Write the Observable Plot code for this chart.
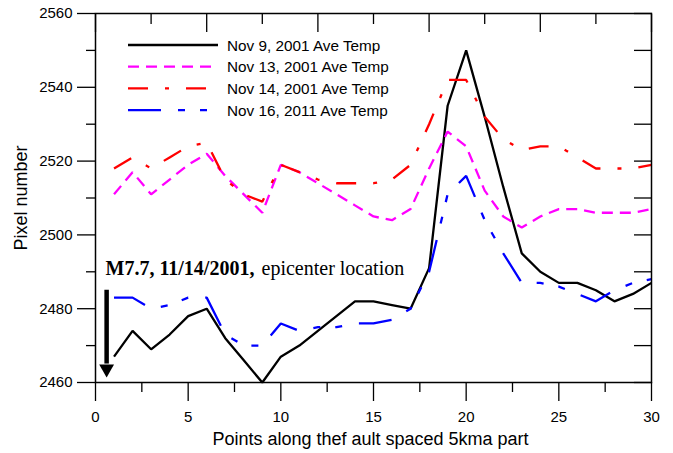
<!DOCTYPE html>
<html>
<head>
<meta charset="utf-8">
<script src="https://cdn.jsdelivr.net/npm/d3@7"></script>
<script src="https://cdn.jsdelivr.net/npm/@observablehq/plot@0.6"></script>
<style>
  html, body { margin: 0; padding: 0; background: #fff; }
  #chart { width: 673px; height: 453px; }
</style>
</head>
<body>
<div id="chart"></div>
<script>
// ---- data ----
const points = [1,2,3,4,5,6,7,8,9,10,11,12,13,14,15,16,17,18,19,20,21,22,23,24,25,26,27,28,29,30];
const nov9  = [2467,2474,2469,2473,2478,2480,2472,2466,2460,2467,2470,2474,2478,2482,2482,2481,2480,2491,2535,2550,2532,2513,2495,2490,2487,2487,2485,2482,2484,2487];
const nov13 = [2511,2517,2511,2515,2519,2522,2516,2511,2506,2519,2517,2514,2511,2508,2505,2504,2507,2518,2528,2524,2512,2505,2502,2505,2507,2507,2506,2506,2506,2507];
const nov14 = [2518,2521,2518,2521,2524,2525,2515,2511,2509,2519,2517,2515,2514,2514,2514,2515,2519,2530,2542,2542,2532,2526,2523,2524,2524,2521,2518,2518,2518,2519];
const nov16 = [2483,2483,2480,2481,2483,2483,2473,2470,2470,2476,2474,2475,2475,2476,2476,2477,2480,2490,2511,2516,2504,2495,2487,2487,2486,2484,2482,2485,2487,2488];
const seriesNames = ["Nov 9, 2001 Ave Temp", "Nov 13, 2001 Ave Temp", "Nov 14, 2001 Ave Temp", "Nov 16, 2011 Ave Temp"];
const xTicks = [0,5,10,15,20,25,30];
const xMinorTicks = [2.5,7.5,12.5,17.5,22.5,27.5];
const topTicks = [0,6,12,18,24,30];
const topMinorTicks = [3,9,15,21,27];
const yTicks = [2460,2480,2500,2520,2540,2560];
const yMinorTicks = [2470,2490,2510,2530,2550];
const yRightTicks = [2460,2470,2480,2490,2500,2510,2520,2530,2540,2550,2560];
const xLabel = "Points along thef ault spaced 5kma part";
const yLabel = "Pixel number";
const noteBold = "M7.7, 11/14/2001,";
const noteRest = " epicenter location";
const noteX = 0.54, noteY = 2489;
const arrowX = 0.6, arrowTop = 2485, arrowBase = 2465, arrowHead = 2463.7;

// ---- styles ----
const styles = [
  {stroke: "#000000", strokeWidth: 2.3, dash: null},
  {stroke: "#ff00ff", strokeWidth: 2.3, dash: "11,7"},
  {stroke: "#ff0000", strokeWidth: 2.3, dash: "20,17,4,17"},
  {stroke: "#0000ff", strokeWidth: 2.3, dash: "33,17,7,15,7,17"}
];
const allValues = [nov9, nov13, nov14, nov16];
const tables = allValues.map((vals, s) => points.map((x, i) => ({x, y: vals[i], series: seriesNames[s]})));

const blank = () => "";
const axisStyle = {stroke: "#000", strokeWidth: 1.3};

function legend(index, scales, values, dims) {
  const g = d3.create("svg:g");
  styles.forEach((st, i) => {
    const y = dims.marginTop + 32 + i * 21.7;
    const x0 = dims.marginLeft + 33;
    g.append("line")
      .attr("x1", x0).attr("x2", x0 + 90)
      .attr("y1", y).attr("y2", y)
      .attr("stroke", st.stroke)
      .attr("stroke-width", st.strokeWidth)
      .attr("stroke-dasharray", st.dash);
    g.append("text")
      .attr("x", x0 + 99).attr("y", y + 5.5)
      .attr("text-anchor", "start")
      .attr("font-family", "'Liberation Sans', Arial, sans-serif")
      .attr("font-size", 15.3)
      .attr("fill", "#000")
      .text(seriesNames[i]);
  });
  return g.node();
}

const chart = Plot.plot({
  width: 673,
  height: 453,
  marginLeft: 95,
  marginRight: 22,
  marginTop: 13,
  marginBottom: 71,
  x: {domain: [0, 30]},
  y: {domain: [2460, 2560]},
  style: {fontFamily: "'Liberation Sans', Arial, sans-serif", fontSize: "15px", color: "#000", background: "#fff"},
  marks: [
    // lines
    ...tables.map((t, s) => Plot.line(t, {
      x: "x", y: "y",
      stroke: styles[s].stroke,
      strokeWidth: styles[s].strokeWidth,
      strokeDasharray: styles[s].dash,
      strokeLinejoin: "miter",
      strokeLinecap: "butt"
    })),
    // frame & axes
    Plot.frame({stroke: "#000", strokeWidth: 1.5}),
    Plot.axisY({ticks: yTicks, tickSize: 18, tickPadding: 5, tickFormat: d3.format("d"), label: null, fontSize: 15, ...axisStyle}),
    Plot.axisY({ticks: yMinorTicks, tickSize: 9, tickFormat: blank, label: null, ...axisStyle}),
    Plot.axisY({anchor: "right", ticks: yRightTicks, tickSize: 18, dx: -18, tickFormat: blank, label: null, ...axisStyle}),
    Plot.axisX({ticks: xTicks, tickSize: 19, tickPadding: 10, tickFormat: d3.format("d"), label: null, fontSize: 15, ...axisStyle}),
    Plot.axisX({ticks: xMinorTicks, tickSize: 10, tickFormat: blank, label: null, ...axisStyle}),
    Plot.axisX({anchor: "top", ticks: topTicks, tickSize: 18, dy: 18, tickFormat: blank, label: null, ...axisStyle}),
    Plot.axisX({anchor: "top", ticks: topMinorTicks, tickSize: 10, dy: 10, tickFormat: blank, label: null, ...axisStyle}),
    // axis titles
    Plot.text([xLabel], {frameAnchor: "bottom", textAnchor: "middle", dx: -3, dy: 62, lineAnchor: "bottom", fontSize: 18, fill: "#000"}),
    Plot.text([yLabel], {frameAnchor: "left", textAnchor: "middle", lineAnchor: "middle", rotate: -90, dx: -74, fontSize: 18, fill: "#000"}),
    // annotation
    Plot.text([noteBold], {x: () => noteX, y: () => noteY, textAnchor: "start", lineAnchor: "bottom", fontFamily: "'Liberation Serif', 'Times New Roman', serif", fontWeight: "bold", fontSize: 20, fill: "#000"}),
    Plot.text([noteRest], {x: () => noteX, y: () => noteY, dx: 151, textAnchor: "start", lineAnchor: "bottom", fontFamily: "'Liberation Serif', 'Times New Roman', serif", fontSize: 20, fill: "#000", style: "white-space: pre"}),
    Plot.ruleX([arrowX], {y1: arrowTop, y2: arrowBase, stroke: "#000", strokeWidth: 4.5}),
    Plot.dot([arrowX], {x: d => d, y: () => arrowHead, symbol: "triangle", rotate: 180, r: 5.5, fill: "#000", stroke: "none"}),
    // legend
    legend
  ]
});
document.getElementById("chart").appendChild(chart);
</script>
</body>
</html>
